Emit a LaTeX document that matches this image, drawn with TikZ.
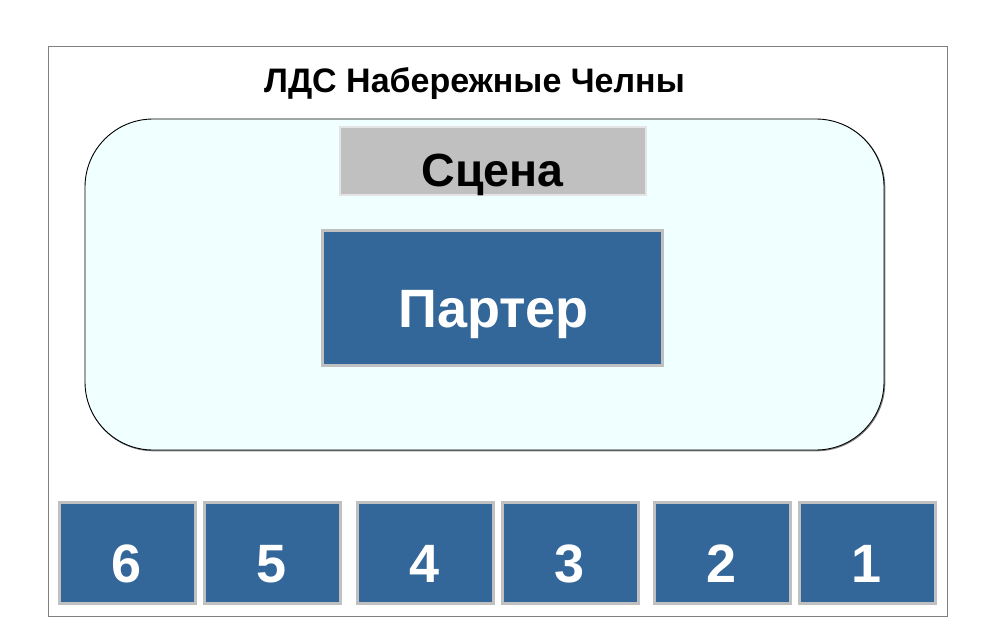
\documentclass[tikz,border=0pt]{standalone}
\usepackage{fontspec}
\setmainfont{Liberation Sans}
\definecolor{secblue}{HTML}{336699}
\definecolor{secedge}{HTML}{C0C0C0}
\definecolor{stagefill}{HTML}{C0C0C0}
\definecolor{stageedge}{HTML}{E4E4E4}
\definecolor{hallfill}{HTML}{F0FFFF}
\definecolor{framegrey}{HTML}{808080}
\tikzset{
  sector/.style={draw=secedge, line width=3pt, fill=secblue, minimum width=136pt, minimum height=101pt, inner sep=0pt},
  seclabel/.style={anchor=base, text=white, font=\fontsize{54}{62}\selectfont\bfseries, inner sep=0pt},
}
\begin{document}
\begin{tikzpicture}[x=1pt,y=-1pt]
\useasboundingbox (0,0) rectangle (996,629);
\fill[white] (0,0) rectangle (996,629);
% outer frame
\node[draw=framegrey, line width=1pt, minimum width=899pt, minimum height=570pt, inner sep=0pt] (frame) at (497.5,331) {};
% title
\node[anchor=base, inner sep=0pt, font=\fontsize{34}{40}\selectfont\bfseries] (title) at (474.5,92.5) {ЛДС Набережные Челны};
% hall
\node[draw=framegrey, line width=1.2pt, rounded corners=68pt, minimum width=799pt, minimum height=331pt, inner sep=0pt] (hallshadow) at (485.2,285.2) {};
\node[draw=black, fill=hallfill, line width=0.9pt, rounded corners=68pt, minimum width=799pt, minimum height=331pt, inner sep=0pt] (hall) at (484.5,284.5) {};
% stage
\node[draw=stageedge, line width=2.5pt, fill=stagefill, minimum width=306pt, minimum height=68pt, inner sep=0pt] (stage) at (493,161) {};
\node[anchor=base, inner sep=0pt, font=\fontsize{46.5}{54}\selectfont\bfseries] (stagetext) at (492.5,186) {Сцена};
% parter
\node[draw=secedge, line width=3pt, fill=secblue, minimum width=340pt, minimum height=135pt, inner sep=0pt] (parter) at (492.5,297.5) {};
\node[anchor=base, inner sep=0pt, text=white, font=\fontsize{54}{62}\selectfont\bfseries] (partertext) at (493.5,327) {Партер};
% sectors
\foreach \n/\x in {6/127, 5/272, 4/425, 3/570, 2/722, 1/867} {
  \node[sector] (s\n) at (\x,553) {};
  \node[seclabel] (l\n) at (\x,582) {\n};
}
\end{tikzpicture}
\end{document}
